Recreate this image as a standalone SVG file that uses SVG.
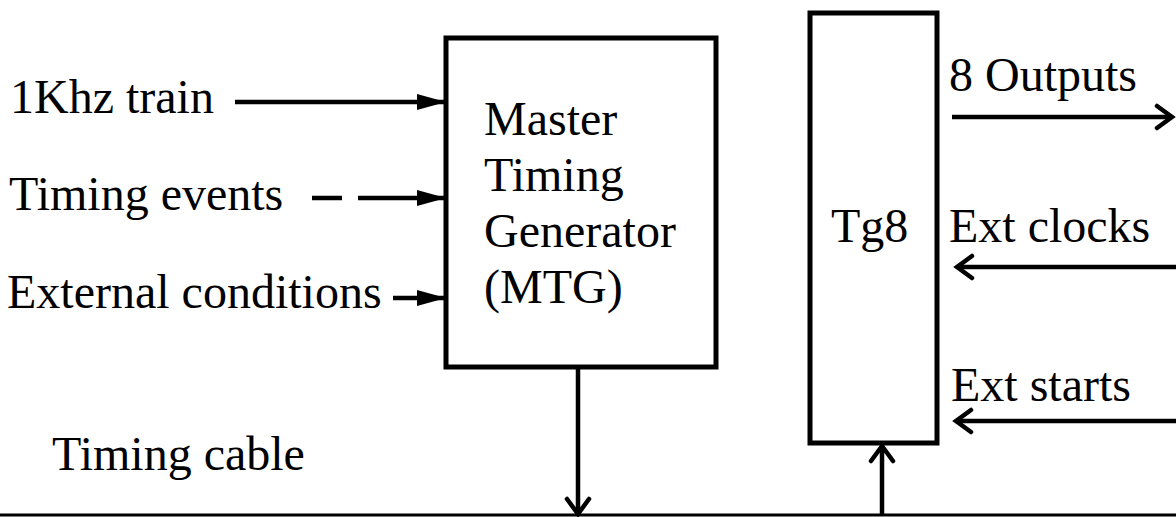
<svg xmlns="http://www.w3.org/2000/svg" width="1176" height="517" viewBox="0 0 1176 517">
  <style>
    .lbl { font-family: "Liberation Serif", "Times New Roman", serif; font-size: 48px; fill: #000; }
    .box { fill: #fff; stroke: #000; stroke-width: 5; }
    .wire { fill: none; stroke: #000; stroke-width: 4.5; }
    .thin { fill: none; stroke: #000; stroke-width: 3; }
  </style>
  <defs>
    <marker id="solid" markerUnits="userSpaceOnUse" markerWidth="32" markerHeight="20" refX="29" refY="10" orient="auto">
      <path d="M0,2 L29,10 L0,18 Z" fill="#000"/>
    </marker>
    <marker id="open" markerUnits="userSpaceOnUse" markerWidth="26" markerHeight="28" refX="21" refY="14" orient="auto">
      <path d="M6,3 L21,14 L6,25" fill="none" stroke="#000" stroke-width="4.5" stroke-linecap="round" stroke-linejoin="miter"/>
    </marker>
  </defs>

  <rect width="1176" height="517" fill="#fff"/>

  <!-- input labels -->
  <g id="inputs">
    <text class="lbl" x="10" y="113">1Khz train</text>
    <text class="lbl" x="9" y="210">Timing events</text>
    <text class="lbl" x="7" y="308">External conditions</text>
  </g>

  <!-- master timing generator -->
  <g id="mtg">
    <rect class="box" x="446" y="38" width="270" height="329"/>
    <text class="lbl" x="484" y="135">Master</text>
    <text class="lbl" x="484" y="191">Timing</text>
    <text class="lbl" x="484" y="247">Generator</text>
    <text class="lbl" x="484" y="303">(MTG)</text>
  </g>

  <!-- Tg8 module -->
  <g id="tg8">
    <rect class="box" x="810" y="13" width="127" height="430"/>
    <text class="lbl" x="831" y="242">Tg8</text>
  </g>

  <!-- Tg8 side signals -->
  <g id="tg8-signals">
    <text class="lbl" x="949" y="91">8 Outputs</text>
    <text class="lbl" x="949" y="242">Ext clocks</text>
    <text class="lbl" x="951" y="401">Ext starts</text>
  </g>

  <g id="cable-label">
    <text class="lbl" x="52" y="470">Timing cable</text>
  </g>

  <!-- connectors -->
  <g id="connectors">
    <line class="wire" x1="235" y1="102" x2="446" y2="102" marker-end="url(#solid)"/>
    <line class="wire" x1="312" y1="198" x2="342" y2="198"/>
    <line class="wire" x1="358" y1="198" x2="446" y2="198" marker-end="url(#solid)"/>
    <line class="wire" x1="393" y1="298" x2="446" y2="298" marker-end="url(#solid)"/>

    <line class="wire" x1="952" y1="117" x2="1172" y2="117" marker-end="url(#open)"/>
    <line class="wire" x1="1176" y1="267" x2="957" y2="267" marker-end="url(#open)"/>
    <line class="wire" x1="1176" y1="421" x2="956" y2="421" marker-end="url(#open)"/>

    <line class="thin" x1="0" y1="515" x2="1176" y2="515"/>
    <line class="wire" x1="578" y1="367" x2="578" y2="514" marker-end="url(#open)"/>
    <line class="wire" x1="882" y1="515" x2="882" y2="446" marker-end="url(#open)"/>
  </g>
</svg>
